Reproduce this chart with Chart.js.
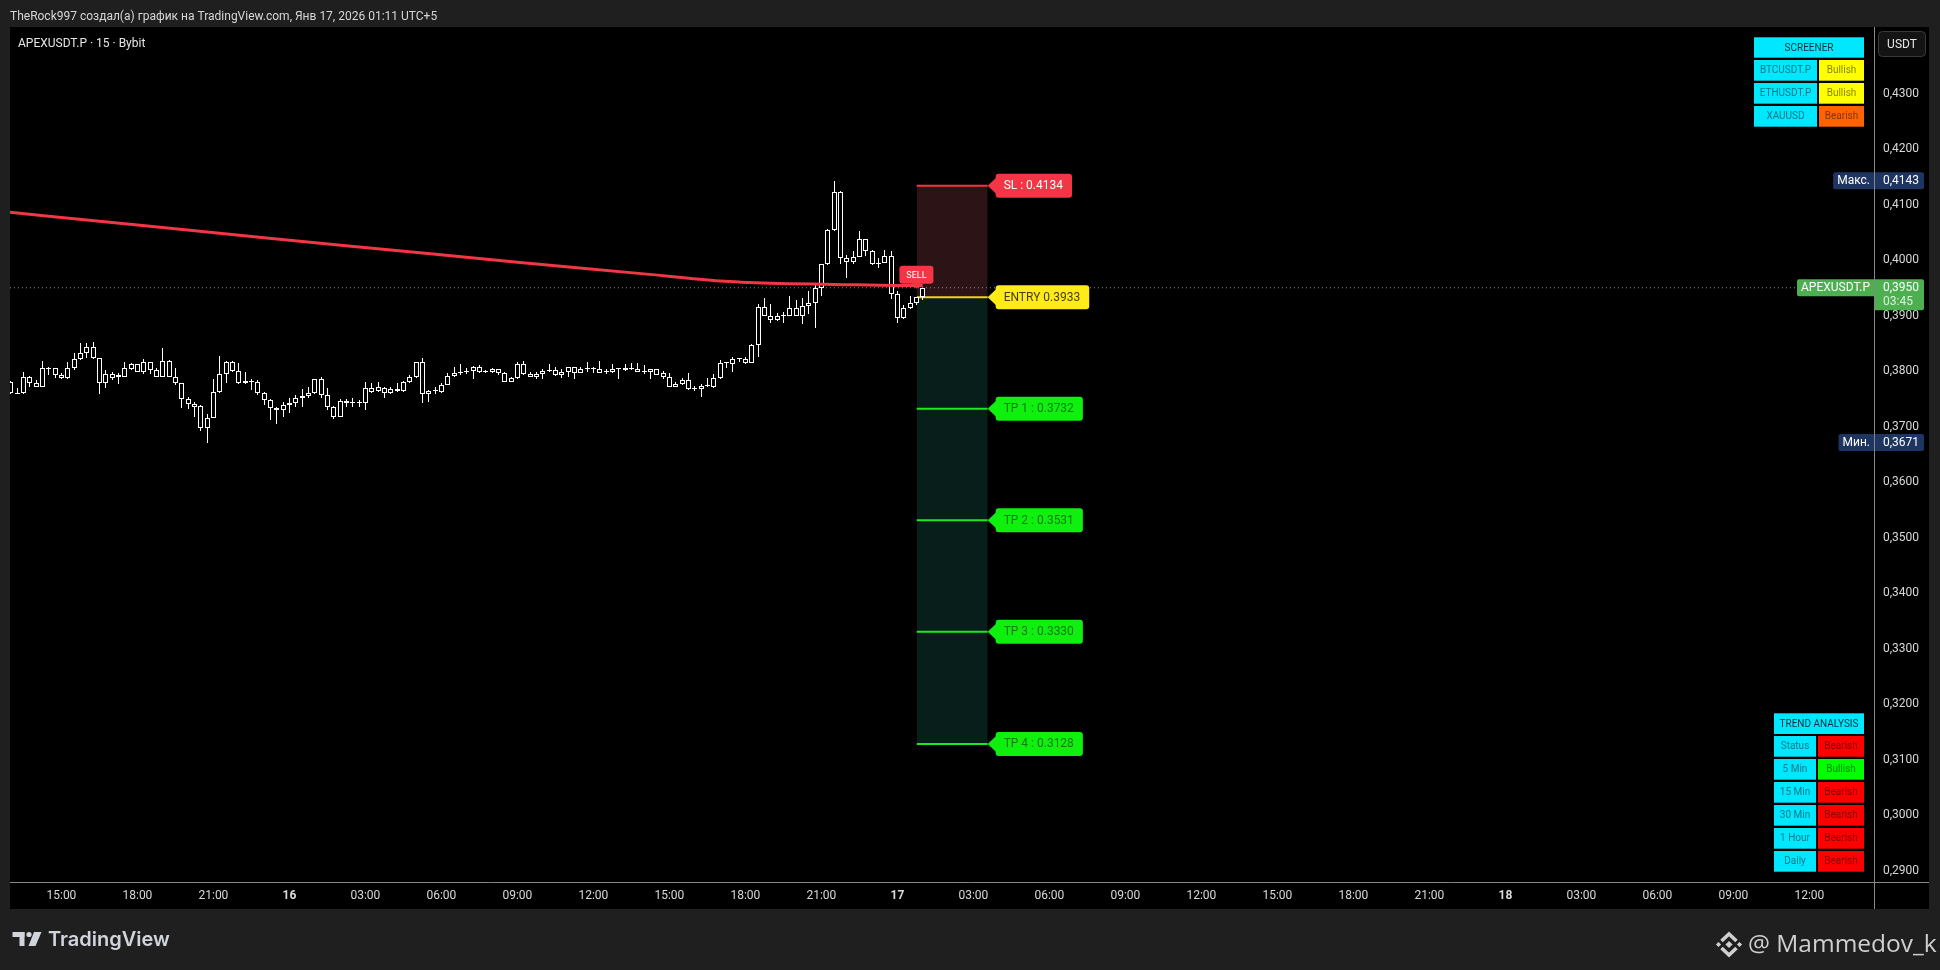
<!DOCTYPE html>
<html><head><meta charset="utf-8">
<script src="https://cdn.jsdelivr.net/npm/chart.js@4.4.1/dist/chart.umd.min.js"></script>
<style>html,body{margin:0;padding:0;background:#1f1f1f;overflow:hidden}canvas{display:block}</style>
</head><body>
<canvas id="c" width="1940" height="970"></canvas>
<script>
// ---- DATA ----
const firstBar = -140; // bar index of first candle; 0 = Jan 17 00:00, 15-minute bars
const opens = [
.3781,.3760,.3760,.3789,.3779,.3772,.3805,.3805,.3793,.3787,
.3805,.3821,.3832,.3844,.3823,.3778,.3795,.3790,.3790,.3804,
.3812,.3799,.3816,.3801,.3790,.3818,.3790,.3778,.3749,.3740,
.3737,.3698,.3716,.3762,.3795,.3816,.3800,.3778,.3781,.3780,
.3760,.3748,.3733,.3729,.3738,.3742,.3751,.3755,.3760,.3785,
.3757,.3735,.3718,.3746,.3742,.3742,.3742,.3769,.3764,.3770,
.3760,.3767,.3764,.3780,.3790,.3816,.3759,.3764,.3762,.3775,
.3791,.3797,.3798,.3800,.3808,.3799,.3798,.3804,.3796,.3781,
.3787,.3812,.3794,.3790,.3795,.3800,.3802,.3792,.3798,.3807,
.3797,.3803,.3803,.3803,.3798,.3798,.3804,.3801,.3805,.3804,
.3799,.3799,.3803,.3796,.3790,.3772,.3776,.3784,.3768,.3768,
.3773,.3771,.3787,.3814,.3812,.3821,.3821,.3815,.3846,.3915,
.3900,.3891,.3900,.3900,.3913,.3900,.3918,.3922,.3949,.3992,
.4054,.4123,.4004,.3996,.4006,.4037,.4017,.3992,.3995,.4007,
.3938,.3895,.3913,.3922,.3933];
const highs = [
.3782,.3769,.3798,.3791,.3784,.3818,.3808,.3806,.3797,.3816,
.3833,.3850,.3850,.3852,.3824,.3801,.3799,.3796,.3816,.3815,
.3813,.3822,.3817,.3805,.3841,.3819,.3805,.3779,.3754,.3745,
.3738,.3722,.3785,.3827,.3818,.3818,.3814,.3799,.3785,.3784,
.3763,.3750,.3735,.3745,.3751,.3757,.3767,.3772,.3786,.3789,
.3769,.3737,.3749,.3749,.3751,.3748,.3780,.3779,.3780,.3771,
.3772,.3778,.3782,.3793,.3817,.3823,.3766,.3772,.3779,.3796,
.3808,.3813,.3805,.3809,.3811,.3802,.3806,.3804,.3799,.3790,
.3816,.3818,.3799,.3799,.3803,.3813,.3807,.3803,.3808,.3808,
.3808,.3816,.3808,.3818,.3803,.3812,.3804,.3812,.3814,.3814,
.3811,.3804,.3804,.3800,.3797,.3781,.3787,.3797,.3773,.3777,
.3787,.3795,.3820,.3817,.3825,.3823,.3826,.3849,.3921,.3931,
.3921,.3904,.3907,.3935,.3928,.3931,.3945,.3958,.3993,.4055,
.4143,.4124,.4009,.4017,.4052,.4038,.4018,.4003,.4018,.4016,
.3945,.3919,.3935,.3934,.3950];
const lows = [
.3758,.3758,.3759,.3772,.3772,.3771,.3793,.3787,.3786,.3786,
.3801,.3820,.3823,.3822,.3758,.3769,.3784,.3777,.3789,.3802,
.3798,.3795,.3795,.3789,.3789,.3789,.3774,.3733,.3732,.3718,
.3692,.3671,.3715,.3761,.3778,.3798,.3777,.3777,.3765,.3757,
.3739,.3711,.3704,.3718,.3725,.3735,.3735,.3751,.3759,.3751,
.3730,.3714,.3717,.3736,.3735,.3735,.3730,.3760,.3762,.3752,
.3759,.3763,.3763,.3778,.3787,.3742,.3745,.3759,.3761,.3774,
.3790,.3793,.3795,.3786,.3797,.3797,.3797,.3792,.3780,.3780,
.3786,.3793,.3789,.3786,.3786,.3799,.3791,.3788,.3790,.3786,
.3796,.3799,.3797,.3796,.3795,.3797,.3786,.3800,.3801,.3798,
.3795,.3786,.3792,.3785,.3771,.3771,.3775,.3766,.3764,.3754,
.3772,.3770,.3786,.3805,.3799,.3817,.3813,.3814,.3825,.3899,
.3887,.3890,.3886,.3899,.3899,.3885,.3903,.3877,.3935,.3991,
.4053,.3992,.3967,.3993,.4005,.4007,.3991,.3986,.3994,.3929,
.3887,.3894,.3912,.3919,.3928];
const closes = [
.3760,.3759,.3789,.3779,.3772,.3805,.3803,.3793,.3787,.3805,
.3821,.3832,.3844,.3823,.3778,.3795,.3788,.3793,.3805,.3812,
.3799,.3816,.3801,.3790,.3818,.3790,.3778,.3749,.3740,.3736,
.3698,.3716,.3762,.3795,.3816,.3800,.3778,.3782,.3781,.3760,
.3748,.3733,.3730,.3739,.3743,.3751,.3755,.3760,.3785,.3757,
.3735,.3718,.3746,.3742,.3742,.3742,.3769,.3763,.3772,.3760,
.3767,.3764,.3780,.3790,.3816,.3759,.3764,.3764,.3775,.3791,
.3796,.3798,.3799,.3808,.3799,.3799,.3804,.3796,.3781,.3787,
.3812,.3794,.3790,.3795,.3800,.3802,.3792,.3798,.3807,.3797,
.3804,.3803,.3803,.3797,.3799,.3804,.3803,.3805,.3804,.3799,
.3799,.3803,.3793,.3790,.3772,.3777,.3784,.3768,.3769,.3773,
.3773,.3787,.3814,.3814,.3821,.3821,.3815,.3847,.3915,.3900,
.3891,.3900,.3900,.3913,.3900,.3918,.3922,.3949,.3992,.4054,
.4123,.4004,.3996,.4006,.4037,.4017,.3992,.3995,.4007,.3938,
.3895,.3913,.3922,.3933,.3950];

const emaBars = [-141,-120,-100,-80,-60,-40,-28,-20,-10,0,4];
const emaValues = [0.4087,0.4063,0.4040,0.4018,0.3996,0.3975,0.3962,0.3958,0.3956,0.3954,0.3954];

const levelNames = ['SL','ENTRY','TP 1','TP 2','TP 3','TP 4'];
const levelPrices = [0.4134,0.3933,0.3732,0.3531,0.3330,0.3128];
const sellPrice = 0.3948;
const lastPrice = 0.3950;
const countdown = '03:45';
const symbolName = 'APEXUSDT.P';

const priceTicks = [0.29,0.30,0.31,0.32,0.33,0.34,0.35,0.36,0.37,0.38,0.39,0.40,0.41,0.42,0.43];
const timeTickBars = [-132,-120,-108,-96,-84,-72,-60,-48,-36,-24,-12,0,12,24,36,48,60,72,84,96,108,120,132,144];
const timeTickLabels = ['15:00','18:00','21:00','16','03:00','06:00','09:00','12:00','15:00','18:00','21:00','17','03:00','06:00','09:00','12:00','15:00','18:00','21:00','18','03:00','06:00','09:00','12:00'];

const screenerSymbols = ['BTCUSDT.P','ETHUSDT.P','XAUUSD'];
const screenerStates = ['Bullish','Bullish','Bearish'];
const trendRows = ['Status','5 Min','15 Min','30 Min','1 Hour','Daily'];
const trendStates = ['Bearish','Bullish','Bearish','Bearish','Bearish','Bearish'];

// ---- LAYOUT CONSTANTS ----
const X_MIN = -140.12, X_MAX = 154.2;
const Y_MIN = 0.287928, Y_MAX = 0.441982;
const LEVEL_START = 3.05, LEVEL_END = 14.25, SELL_BAR = 3;
const AX_X = 1874, AX_Y = 882;

const barX = k => firstBar + k;
const dayLabels = new Set(['16','17','18']);

function font(sz, w){ return (w||'') + ' ' + sz + 'px Roboto'; }

// snap candle rectangles to the pixel grid (positions still come from the scales)
const snapPlugin = {
  id: 'snap',
  beforeDatasetDraw(chart, args){
    const ds = chart.data.datasets[args.index];
    if (ds.type !== 'bar') return;
    args.meta.data.forEach(el => {
      el.x = Math.floor(el.x) + 0.5;
      let t = Math.round(Math.min(el.y, el.base)), b = Math.round(Math.max(el.y, el.base));
      if (b - t < 1) b = t + 1;
      el.y = t; el.base = b;
    });
  }
};

const framePlugin = {
  id: 'frame',
  beforeDraw(chart){
    const c = chart.ctx;
    c.save();
    c.fillStyle = '#1f1f1f'; c.fillRect(0,0,1940,970);
    c.fillStyle = '#000000'; c.fillRect(10,27,1919,882);
    // header
    c.fillStyle = '#d6d6d6'; c.font = font(12); c.textBaseline = 'alphabetic'; c.textAlign='left';
    c.fillText('TheRock997 создал(а) график на TradingView.com, Янв 17, 2026 01:11 UTC+5', 10, 19.5);
    c.fillStyle = '#e6e6e6';
    c.fillText('APEXUSDT.P · 15 · Bybit', 18, 47);
    // footer TradingView logo
    c.fillStyle = '#d1d4dc';
    c.fillRect(12.5, 932, 12, 5);
    c.fillRect(19.5, 932, 5, 14);
    c.beginPath(); c.arc(29, 934.5, 2.6, 0, Math.PI*2); c.fill();
    c.beginPath(); c.moveTo(34,932); c.lineTo(41.5,932); c.lineTo(35.5,946); c.lineTo(28.5,946); c.closePath(); c.fill();
    c.font = '600 20px Inter'; c.textBaseline='alphabetic';
    c.fillText('TradingView', 48, 946);
    // Binance-like icon + handle
    c.fillStyle = '#cfcfcf'; c.strokeStyle = '#cfcfcf';
    const bx = 1729, by = 944.5;
    const dia = (x,y,r)=>{ c.beginPath(); c.moveTo(x,y-r); c.lineTo(x+r,y); c.lineTo(x,y+r); c.lineTo(x-r,y); c.closePath(); c.fill(); };
    dia(bx,by,3.6); dia(bx-10.5,by,2.6); dia(bx+10.5,by,2.6);
    c.lineWidth = 3.6; c.lineJoin='miter';
    c.beginPath(); c.moveTo(bx-7.5,by-3.5); c.lineTo(bx,by-10.5); c.lineTo(bx+7.5,by-3.5); c.stroke();
    c.beginPath(); c.moveTo(bx-7.5,by+3.5); c.lineTo(bx,by+10.5); c.lineTo(bx+7.5,by+3.5); c.stroke();
    c.font = '24.5px "Open Sans"'; c.fillText('@ Mammedov_k', 1748, 952);
    c.restore();
  },
  afterDraw(chart){
    const c = chart.ctx, xs = chart.scales.x, ys = chart.scales.y;
    c.save();
    c.textAlign = 'left'; c.textBaseline = 'middle';
    // level labels
    const tip = xs.getPixelForValue(LEVEL_END);
    levelNames.forEach((name,k)=>{
      const p = levelPrices[k];
      const y = ys.getPixelForValue(p);
      const txt = k===1 ? name + ' ' + p.toFixed(4) : name + ' : ' + p.toFixed(4);
      c.font = font(12);
      const w = c.measureText(txt).width + 17;
      const bg = k===0 ? '#f23645' : (k===1 ? '#ffeb1a' : '#0ff00f');
      c.fillStyle = bg;
      c.beginPath(); c.roundRect(tip+8, y-12, w, 24, 3); c.fill();
      c.beginPath(); c.moveTo(tip, y); c.lineTo(tip+9, y-8.5); c.lineTo(tip+9, y+8.5); c.closePath(); c.fill();
      c.fillStyle = k===0 ? '#ffffff' : (k===1 ? 'rgba(0,0,0,0.75)' : 'rgba(0,0,0,0.5)');
      c.fillText(txt, tip+16, y+0.5);
    });
    // SELL label
    const sx = xs.getPixelForValue(SELL_BAR), sy = ys.getPixelForValue(sellPrice);
    c.fillStyle = '#f23645';
    c.beginPath(); c.roundRect(sx-17, sy-23, 34, 18, 3); c.fill();
    c.beginPath(); c.moveTo(sx-5, sy-5.5); c.lineTo(sx+5, sy-5.5); c.lineTo(sx, sy); c.closePath(); c.fill();
    c.fillStyle = '#ffffff'; c.font = font(9); c.textAlign='center';
    c.fillText('SELL', sx, sy-13.5);
    c.textAlign = 'left';
    // price axis tags
    const tag = (p, name, bg, valH) => {
      const y = ys.getPixelForValue(p);
      c.font = font(12);
      const w = c.measureText(name).width + 8;
      c.fillStyle = bg;
      c.beginPath(); c.roundRect(AX_X - w, y-8.5, w, 17, [2,0,0,2]); c.fill();
      c.beginPath(); c.roundRect(AX_X, y-8.5, 50, valH, [0,2,2,0]); c.fill();
      c.fillStyle = '#ffffff';
      c.fillText(name, AX_X - w + 4, y+0.5);
      c.fillText(p.toFixed(4).replace('.',','), 1883, y+0.5);
      return y;
    };
    tag(Math.max(...highs), 'Макс.', '#1e3461', 17);
    tag(Math.min(...lows), 'Мин.', '#1e3461', 17);
    const cy = tag(lastPrice, symbolName, '#4caf50', 31);
    c.fillStyle = 'rgba(255,255,255,0.8)';
    c.fillText(countdown, 1883, cy+14);
    // USDT button
    c.fillStyle = '#141414'; c.strokeStyle = '#3a3a3a'; c.lineWidth = 1;
    c.beginPath(); c.roundRect(1878.5, 31.5, 47, 25, 4); c.fill(); c.stroke();
    c.fillStyle = '#e6e6e6'; c.textAlign='center'; c.font = font(12);
    c.fillText('USDT', 1902, 44.5);
    // tables
    const cell = (x0,y0,x1,y1,bg,txt,col) => {
      c.fillStyle = bg; c.fillRect(x0,y0,x1-x0,y1-y0);
      c.fillStyle = col; c.font = font(10); c.textAlign='center';
      c.fillText(txt, (x0+x1)/2, (y0+y1)/2+0.5);
    };
    const CY='#00e8ff', TXT='rgba(0,0,0,0.5)', HTXT='rgba(0,0,0,0.8)';
    cell(1754,37.3,1864,57.7,CY,'SCREENER',HTXT);
    screenerSymbols.forEach((s,k)=>{
      const y0 = 60 + k*23, y1 = y0 + 20.7;
      cell(1754,y0,1817,y1,CY,s,TXT);
      const st = screenerStates[k];
      cell(1819,y0,1864,y1, st==='Bullish' ? '#ffff00' : '#ff6400', st, TXT);
    });
    cell(1774,713.3,1864,734,CY,'TREND ANALYSIS',HTXT);
    trendRows.forEach((s,k)=>{
      const y0 = 736 + k*23, y1 = y0 + 20.7;
      cell(1774,y0,1816,y1,CY,s,TXT);
      const st = trendStates[k];
      cell(1818,y0,1864,y1, st==='Bullish' ? '#00ff00' : '#ff0000', st, TXT);
    });
    // axis lines
    c.strokeStyle = '#868686'; c.lineWidth = 1;
    c.beginPath(); c.moveTo(AX_X+0.5, 27); c.lineTo(AX_X+0.5, 909); c.stroke();
    c.beginPath(); c.moveTo(10, AX_Y+0.5); c.lineTo(1929, AX_Y+0.5); c.stroke();
    c.restore();
  }
};

function build(){
  const idx = opens.map((_,k)=>k);
  const lvl = k => [{x:LEVEL_START,y:levelPrices[k]},{x:LEVEL_END,y:levelPrices[k]}];
  const lineBase = {type:'line', pointRadius:0, borderWidth:2, tension:0};
  const datasets = [
    {type:'bar', label:'wicks', data: idx.map(k=>({x:barX(k), y:[lows[k],highs[k]]})),
      backgroundColor:'#ffffff', borderWidth:0, barThickness:1, grouped:false, minBarLength:1, inflateAmount:0, order:5},
    {type:'bar', label:'bodies', data: idx.map(k=>({x:barX(k), y:[opens[k],closes[k]]})),
      backgroundColor:'#000000', borderColor:'#ffffff', borderWidth:1, borderSkipped:false, barThickness:5, grouped:false, minBarLength:1, inflateAmount:0, order:4},
    {type:'line', label:'ema', data: emaBars.map((x,k)=>({x, y:emaValues[k]})), borderColor:'#f23645', borderWidth:3, pointRadius:0, cubicInterpolationMode:'monotone', order:1},
    {type:'line', label:'last', data:[{x:X_MIN,y:lastPrice},{x:X_MAX,y:lastPrice}], borderColor:'#8c8c8c', borderWidth:1, borderDash:[1,3], pointRadius:0, order:6},
    Object.assign({}, lineBase, {label:'SL', data:lvl(0), borderColor:'#f23645', fill:{value:levelPrices[1]}, backgroundColor:'#2b1316', order:8}),
    Object.assign({}, lineBase, {label:'TP4', data:lvl(5), borderColor:'#1ee81e', fill:{value:levelPrices[1]}, backgroundColor:'#081e1b', order:8}),
    Object.assign({}, lineBase, {label:'ENTRY', data:lvl(1), borderColor:'#e8d51c', order:7}),
    Object.assign({}, lineBase, {label:'TP1', data:lvl(2), borderColor:'#1ee81e', order:7}),
    Object.assign({}, lineBase, {label:'TP2', data:lvl(3), borderColor:'#1ee81e', order:7}),
    Object.assign({}, lineBase, {label:'TP3', data:lvl(4), borderColor:'#1ee81e', order:7}),
  ];
  new Chart(document.getElementById('c'), {
    type:'bar',
    data:{datasets},
    options:{
      responsive:false, animation:false, events:[],
      layout:{padding:{left:10, top:27, right:11, bottom:61}},
      plugins:{legend:{display:false}, tooltip:{enabled:false}, title:{display:false}},
      scales:{
        x:{type:'linear', position:'bottom', min:X_MIN, max:X_MAX, offset:false,
          grid:{display:false, drawTicks:false}, border:{display:false},
          afterBuildTicks: s => { s.ticks = timeTickBars.map(v=>({value:v})); },
          afterFit: s => { s.height = 27; },
          ticks:{autoSkip:false, maxRotation:0, padding:7, color:'#d9d9d9',
            font: ctx => ({family:'Roboto', size:12, weight: (ctx.tick && dayLabels.has(timeTickLabels[timeTickBars.indexOf(ctx.tick.value)])) ? 'bold' : 'normal'}),
            callback: v => { const i = timeTickBars.indexOf(v); return i>=0 ? timeTickLabels[i] : ''; }}},
        y:{type:'linear', position:'right', min:Y_MIN, max:Y_MAX,
          grid:{display:false, drawTicks:false}, border:{display:false},
          afterBuildTicks: s => { s.ticks = priceTicks.map(v=>({value:v})); },
          afterFit: s => { s.width = 55; },
          ticks:{autoSkip:false, padding:9, color:'#d9d9d9', font:{family:'Roboto', size:12},
            callback: v => v.toFixed(4).replace('.',',')}}
      }
    },
    plugins:[snapPlugin, framePlugin]
  });
}
const fontsReady = Promise.all([
  document.fonts.load('12px Roboto'), document.fonts.load('bold 12px Roboto'),
  document.fonts.load('600 20px Inter'), document.fonts.load('24px "Open Sans"')
]).catch(()=>{});
Promise.race([fontsReady, new Promise(r=>setTimeout(r,1500))]).then(build);
</script>
</body></html>
